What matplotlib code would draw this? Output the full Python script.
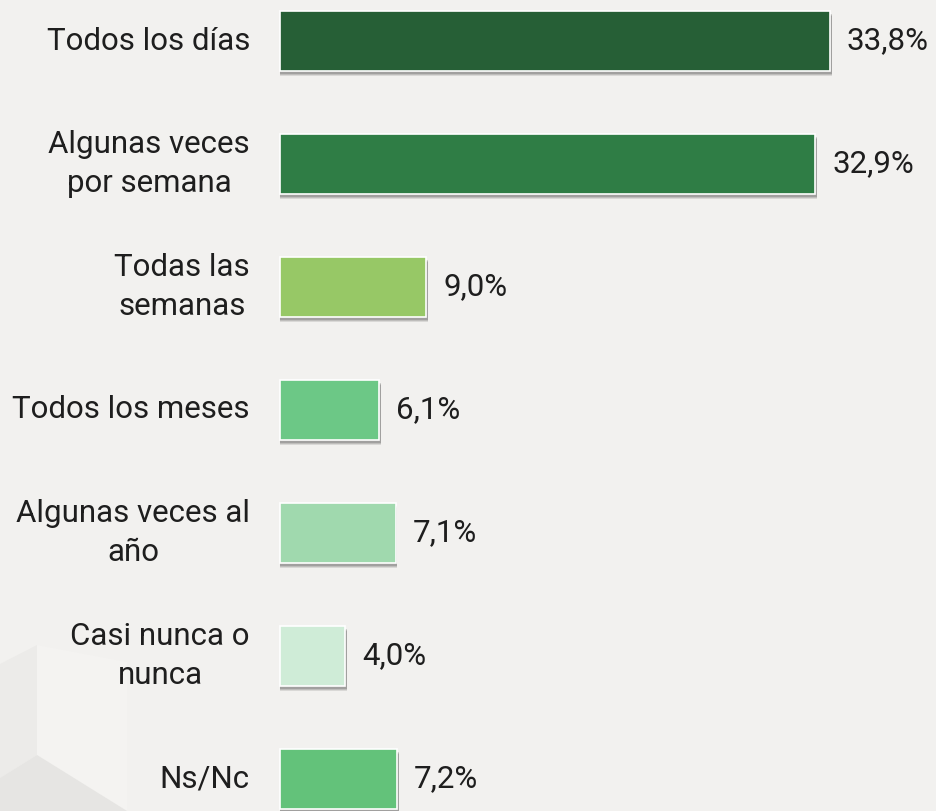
import matplotlib
matplotlib.use("Agg")
import matplotlib.pyplot as plt
from matplotlib.patches import Polygon

categories = ["Todos los días", "Algunas veces\npor semana", "Todas las\nsemanas",
              "Todos los meses", "Algunas veces al\naño", "Casi nunca o\nnunca", "Ns/Nc"]
values = [33.8, 32.9, 9.0, 6.1, 7.1, 4.0, 7.2]
value_labels = ["33,8%", "32,9%", "9,0%", "6,1%", "7,1%", "4,0%", "7,2%"]
colors = ["#265f36", "#2f7d45", "#97c866", "#6cc886", "#a0d9ae", "#cfecd7", "#63c27a"]

BG = "#f2f1ef"
W, H = 936, 811
fig = plt.figure(figsize=(W / 100, H / 100), dpi=100, facecolor=BG)
ax = fig.add_axes([0, 0, 1, 1])
ax.set_facecolor(BG)

px_x = 33.8 / 550.0      # data units per pixel (x)
px_y = 1 / 123.0         # data units per pixel (y)
x0 = -280 * px_x
x1 = (W - 280) * px_x
ytop = -41 * px_y
ybot = (H - 41) * px_y
ax.set_xlim(x0, x1)
ax.set_ylim(ybot, ytop)
ax.axis("off")

# decorative background shapes (bottom-left)
def P(px, py):
    return (x0 + px * px_x, ytop + py * px_y)

ax.add_patch(Polygon([P(0, 664), P(37, 645), P(37, 755), P(0, 778)],
                     closed=True, facecolor="#ecebe9", edgecolor="none", zorder=0))
ax.add_patch(Polygon([P(37, 645), P(127, 662), P(127, 811), P(37, 755)],
                     closed=True, facecolor="#f4f3f1", edgecolor="none", zorder=0))
ax.add_patch(Polygon([P(0, 778), P(37, 755), P(127, 811), P(0, 811)],
                     closed=True, facecolor="#e6e5e3", edgecolor="none", zorder=0))

ypos = list(range(len(values)))
h = 0.49

# shadows
for dy, a in [(5, 0.10), (4, 0.12), (3, 0.15)]:
    ax.barh([y + dy * px_y for y in ypos], [v + 1.5 * px_x for v in values], height=h,
            left=0, color="#000000", alpha=a, linewidth=0, zorder=1)

ax.barh(ypos, values, height=h, color=colors, edgecolor="white", linewidth=1.2, zorder=2)

font = "Roboto"
for y, lab, v, vl in zip(ypos, categories, values, value_labels):
    ax.annotate(lab, xy=(0, y), xytext=(-30, 0), textcoords="offset pixels",
                ha="right", va="center", multialignment="center", fontsize=22.5,
                family=font, color="#1e1e1e", linespacing=1.4)
    ax.annotate(vl, xy=(v, y), xytext=(17, 0), textcoords="offset pixels",
                ha="left", va="center", fontsize=22.5, family=font, color="#1e1e1e")

fig.savefig("out.png", dpi=100, facecolor=BG)
